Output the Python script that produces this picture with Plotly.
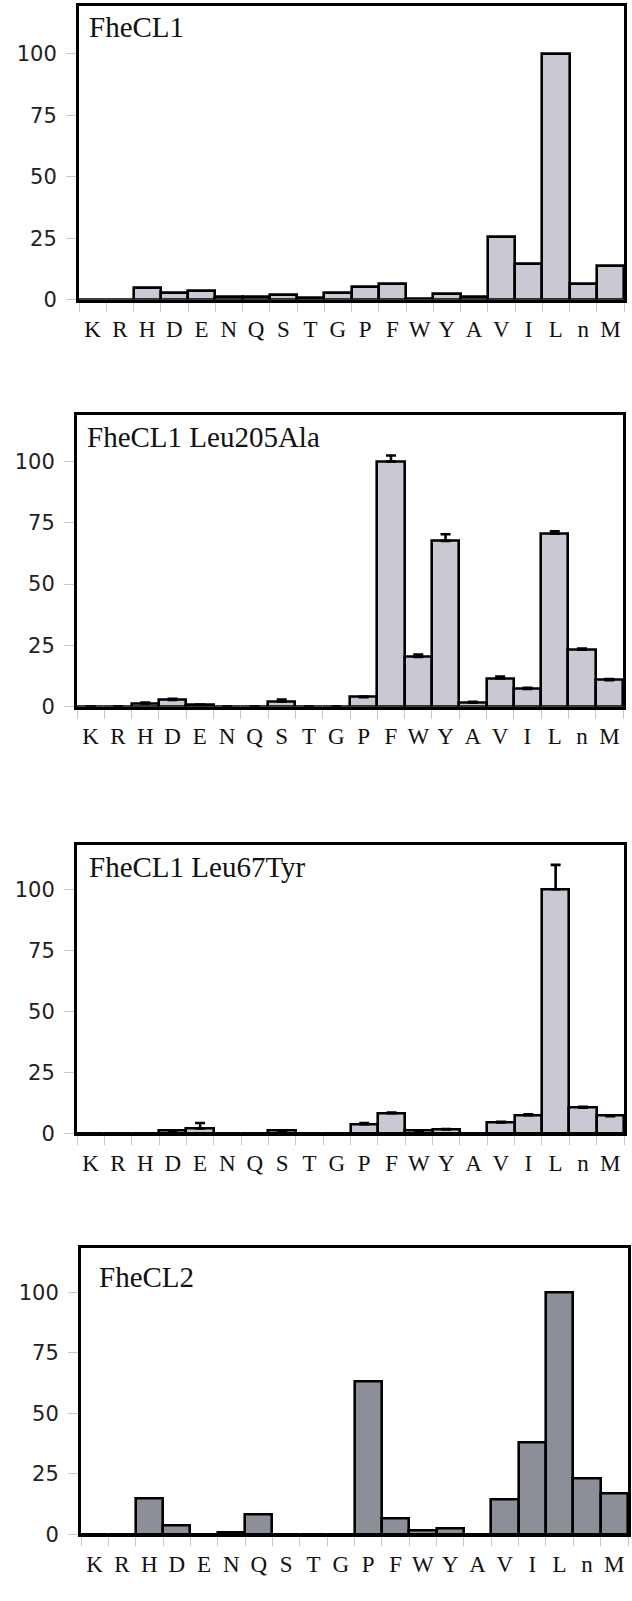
import plotly.graph_objects as go

W, H = 632, 1601

residues = ["K", "R", "H", "D", "E", "N", "Q", "S", "T", "G",
            "P", "F", "W", "Y", "A", "V", "I", "L", "n", "M"]

fhecl1 = [0, 0, 4.7, 2.7, 3.4, 1.0, 1.3, 2.0, 0.6, 2.8,
          5.0, 6.5, 0.3, 2.2, 1.3, 25.7, 14.5, 100, 6.6, 13.8]

leu205ala = [0, 0, 1.3, 2.7, 0.7, 0, 0, 2.0, 0, 0,
             3.9, 100, 20.3, 67.6, 1.6, 11.5, 7.2, 70.5, 23.2, 10.8]
leu205ala_err = [0, 0, 0.4, 0.5, 0.2, 0, 0, 0.9, 0, 0,
                 0.2, 2.4, 1.0, 2.7, 0.4, 0.8, 0.5, 1.0, 0.5, 0.5]

leu67tyr = [0, 0, 0, 1.0, 2.0, 0, 0, 1.0, 0, 0,
            3.8, 8.3, 1.1, 1.6, 0, 4.5, 7.5, 100, 10.5, 7.1]
leu67tyr_err = [0, 0, 0, 0.2, 2.3, 0, 0, 0.2, 0, 0,
                0.5, 0.3, 0.2, 0.2, 0, 0.3, 0.3, 10.0, 0.4, 0.2]

fhecl2 = [0, 0, 14.6, 3.7, 0, 0.7, 8.2, 0, 0, 0,
          63.1, 6.4, 1.4, 2.3, 0, 14.3, 37.8, 100, 22.9, 16.9]

titles = ["FheCL1", "FheCL1 Leu205Ala", "FheCL1 Leu67Tyr", "FheCL2"]
y_ticks = [0, 25, 50, 75, 100]

# panel frames in pixels: (left, right, top, bottom), y max, title offset
frames = [
    (79, 624, 6, 302, 119.5, (8, 3)),
    (77, 623, 418, 712, 119.0, (8, 4)),
    (77, 624, 851, 1142, 118.3, (10, 4)),
    (81, 628, 1257, 1546, 118.4, (16, 12)),
]
light = "#c8c9d3"
dark = "#8d8f98"

series = [
    (fhecl1, None, light),
    (leu205ala, leu205ala_err, light),
    (leu67tyr, leu67tyr_err, light),
    (fhecl2, None, dark),
]

fig = go.Figure()
layout = dict(width=W, height=H, margin=dict(l=0, r=0, t=0, b=0),
              paper_bgcolor="white", plot_bgcolor="white", showlegend=False,
              bargap=0, annotations=[])

for i, ((vals, err, col), (l, r, t, b, ymax, toff)) in enumerate(zip(series, frames)):
    n = "" if i == 0 else str(i + 1)
    bar = go.Bar(x=residues, y=vals, xaxis="x" + n, yaxis="y" + n,
                 marker=dict(color=col, line=dict(color="black", width=2.6)),
                 width=1.0)
    if err is not None:
        bar.error_y = dict(type="data", symmetric=False, array=err,
                           arrayminus=[0] * len(err), color="black",
                           thickness=2.6, width=5)
    fig.add_trace(bar)
    xd = [l / W, r / W]
    yd = [(H - b) / H, (H - t) / H]
    layout["xaxis" + n] = dict(
        domain=xd, anchor="y" + n, type="category", showline=True, mirror=True,
        linecolor="black", linewidth=3, ticks="outside", tickson="boundaries",
        ticklen=9, tickcolor="#c8c8c8", tickwidth=1, showgrid=False,
        tickmode="array", tickvals=residues, ticktext=residues, tickangle=0,
        tickfont=dict(family="Liberation Serif", size=23, color="#111"),
        ticklabelstandoff=7, range=[-0.5, 19.5], fixedrange=True)
    layout["yaxis" + n] = dict(
        domain=yd, anchor="x" + n, range=[0, ymax], showline=True, mirror=True,
        linecolor="black", linewidth=3, ticks="outside", ticklen=10,
        tickcolor="#c8c8c8", tickwidth=1, showgrid=False, zeroline=False,
        tickvals=y_ticks, ticktext=[str(v) for v in y_ticks],
        tickfont=dict(family="DejaVu Sans", size=21, color="#222"),
        ticklabelstandoff=5)
    layout["annotations"].append(dict(
        text=titles[i], xref="paper", yref="paper",
        x=(l + toff[0]) / W, y=(H - t - toff[1]) / H,
        xanchor="left", yanchor="top", showarrow=False,
        font=dict(family="Liberation Serif", size=29, color="#111")))

fig.update_layout(**layout)
fig.write_html("out.html", config={"displayModeBar": False},
               post_script="document.body.style.margin='0';"
                           "document.body.style.overflow='hidden';")
